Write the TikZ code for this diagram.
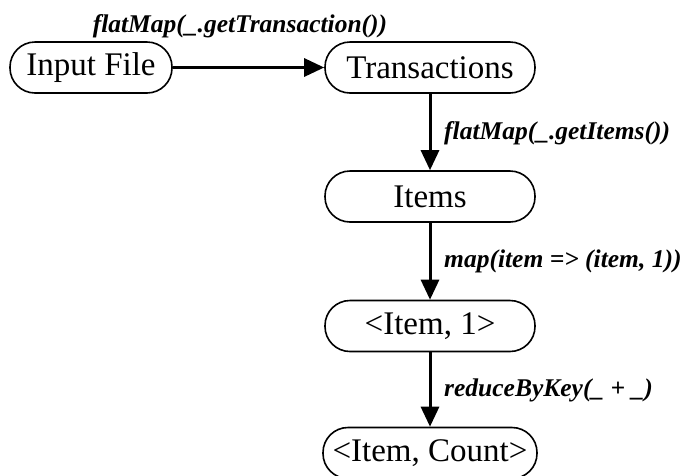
\documentclass[tikz,border=0pt]{standalone}
\usepackage{fontspec}
\setmainfont{Liberation Serif}
\usetikzlibrary{arrows.meta}
\begin{document}
\begin{tikzpicture}[x=1pt,y=-1pt,
  box/.style={draw,line width=1.6pt,rounded corners=25pt,minimum height=51pt,inner sep=0pt,
    font=\fontsize{33}{38}\selectfont},
  conn/.style={line width=3pt,-{Triangle[length=20pt,width=18pt]}},
  lbl/.style={font=\fontsize{25.5}{30}\selectfont\bfseries\itshape,inner sep=0pt}]
\useasboundingbox (0,0) rectangle (685,475);
\node[box,minimum width=162pt] (in) at (91,67.5) {Input File};
\node[box,minimum width=210pt] (tr) at (430,67.5) {Transactions};
\node[box,minimum width=210pt] (it) at (430,196.5) {Items};
\node[box,minimum width=210pt] (one) at (430,326) {<Item, 1>};
\node[box,minimum width=214pt] (cnt) at (430,453) {<Item, Count>};
\draw[conn] (in) -- (tr);
\draw[conn] (tr) -- (it);
\draw[conn] (it) -- (one);
\draw[conn] (one) -- (cnt);
\node[lbl] (l1) at (240,26) {flatMap(\_.getTransaction())};
\node[lbl,anchor=west] (l2) at (444,133) {flatMap(\_.getItems())};
\node[lbl,anchor=west] (l3) at (444,261) {map(item => (item, 1))};
\node[lbl,anchor=west] (l4) at (444,390) {reduceByKey(\_ + \_)};
\end{tikzpicture}
\end{document}
